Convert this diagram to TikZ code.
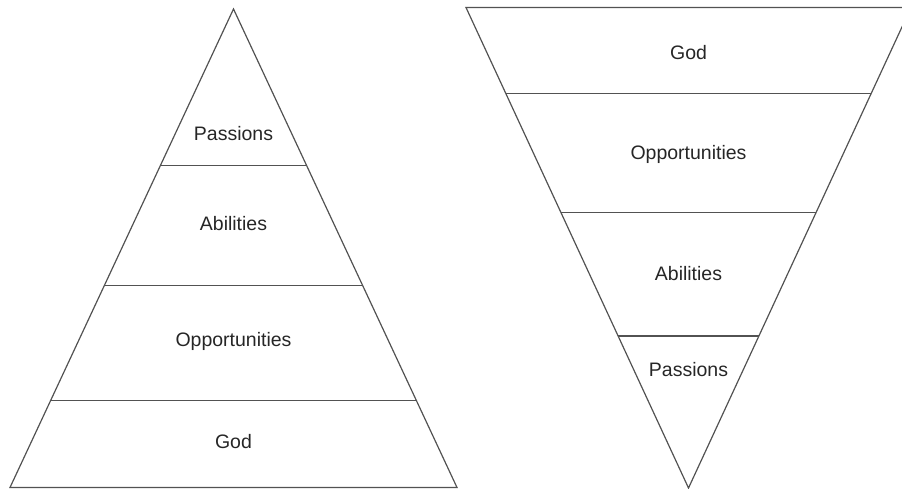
\documentclass[tikz,border=0pt]{standalone}
\usepackage{fontspec}
\setmainfont{Liberation Sans}
\begin{document}
\begin{tikzpicture}[x=1pt,y=-1pt,
  edge/.style={draw=black!68,line width=1.2pt,line join=miter},
  lbl/.style={font=\fontsize{19.5}{22}\selectfont,text=black!85,inner sep=0pt}]
\useasboundingbox (0,0) rectangle (902,489);
\clip (0,0) rectangle (902,489);
% left pyramid
\coordinate (LA) at (233.5,9);
\coordinate (LB) at (10,487.5);
\coordinate (LC) at (457,487.5);
\draw[edge] (LA) -- (LB) -- (LC) -- cycle;
\foreach \yy/\nm in {165.5/l1,285.5/l2,400.5/l3}{
  \path (LA) -- (LB) coordinate[pos={(\yy-9)/478.5}] (\nm a);
  \path (LA) -- (LC) coordinate[pos={(\yy-9)/478.5}] (\nm b);
  \draw[edge] (\nm a) -- (\nm b);
}
\node[lbl] (lp) at (233.5,134) {Passions};
\node[lbl] (la) at (233.5,224) {Abilities};
\node[lbl] (lo) at (233.5,341) {Opportunities};
\node[lbl] (lg) at (233.5,442) {God};
% right inverted pyramid
\coordinate (RA) at (688.5,488);
\coordinate (RB) at (466,7.5);
\coordinate (RC) at (911,7.5);
\draw[edge] (RA) -- (RB) -- (RC) -- cycle;
\foreach \yy/\nm in {93.5/r1,212.5/r2,336/r3}{
  \path (RB) -- (RA) coordinate[pos={(\yy-7.5)/480.5}] (\nm a);
  \path (RC) -- (RA) coordinate[pos={(\yy-7.5)/480.5}] (\nm b);
  \draw[edge] (\nm a) -- (\nm b);
}
\node[lbl] (rg) at (688.5,53) {God};
\node[lbl] (ro) at (688.5,154) {Opportunities};
\node[lbl] (ra) at (688.5,274) {Abilities};
\node[lbl] (rp) at (688.5,370) {Passions};
\end{tikzpicture}
\end{document}
